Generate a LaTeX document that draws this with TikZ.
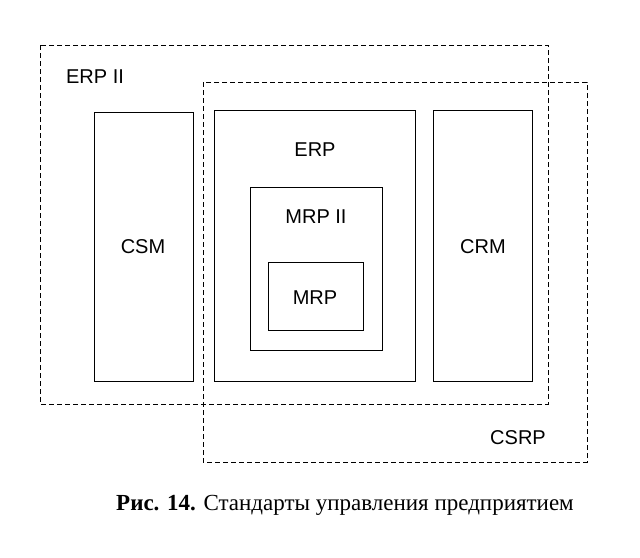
\documentclass[tikz,border=0pt]{standalone}
\usepackage{fontspec}
\setmainfont{Liberation Serif}
\setsansfont{Liberation Sans}
\tikzset{
	box/.style={draw,line width=0.8pt},
	zone/.style={draw,dash pattern=on 5pt off 3pt,line width=0.7pt},
	lbl/.style={font=\sffamily\fontsize{20}{23}\selectfont},
}
\begin{document}
\begin{tikzpicture}[x=1pt,y=-1pt]
			\useasboundingbox (0,0) rectangle (640,557);
			\draw [zone] (40,45) rectangle (548,404);
			\draw [zone] (203,82) rectangle (587,462);
			\draw [box] (94,112) rectangle (193,381);
			\draw [box] (214,110) rectangle (415,381);
			\draw [box] (250,187) rectangle (382,350);
			\draw [box] (268,262) rectangle (363,330);
			\draw [box] (433,110) rectangle (532,381);
			\node[lbl] (erpii) at (95,77) {ERP II};
			\node[lbl] (csrp) at (518,438) {CSRP};
			\node[lbl] (csm) at (143,247) {CSM};
			\node[lbl] (erp) at (315,150) {ERP};
			\node[lbl] (mrpii) at (316,217) {MRP II};
			\node[lbl] (mrp) at (315,298) {MRP};
			\node[lbl] (crm) at (483,247) {CRM};
			\node[font=\fontsize{23}{26}\selectfont] (caption) at (345,505) {\textbf{Рис. 14.} Стандарты управления предприятием};
		\end{tikzpicture}
\end{document}
